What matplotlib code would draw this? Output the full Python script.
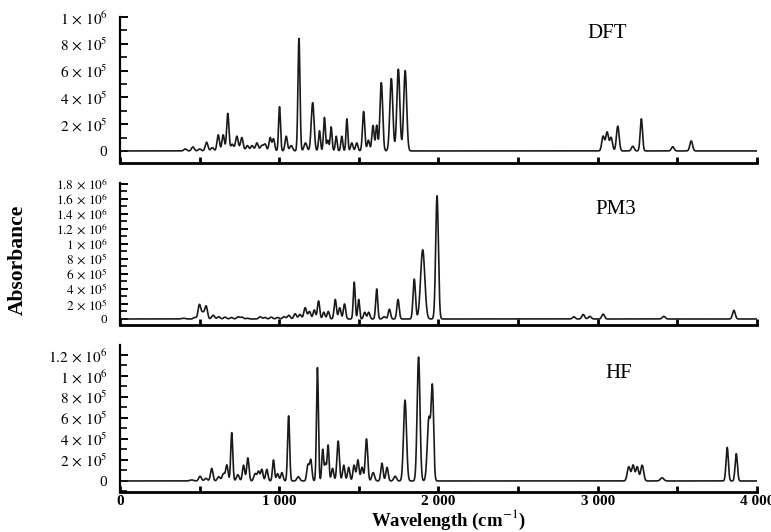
import numpy as np
import matplotlib.pyplot as plt
from matplotlib.ticker import MultipleLocator, FixedLocator

plt.rcParams['font.family'] = ['Liberation Serif', 'DejaVu Serif']
plt.rcParams['mathtext.fontset'] = 'stix'

# peak lists: position (cm-1), height, FWHM (cm-1)
dft_pos = [410, 458, 500, 544, 580, 617, 648, 677, 705, 734, 765, 800, 830, 860, 890,
           911, 943, 964, 1002, 1044, 1075, 1124, 1165, 1210, 1253, 1284, 1305, 1326,
           1358, 1393, 1425, 1456, 1487, 1530, 1560, 1589, 1612, 1641, 1704, 1748, 1791,
           3034, 3059, 3084, 3126, 3220, 3274, 3471, 3587]
dft_amp = [1.5e4, 3.0e4, 1.5e4, 6.5e4, 2.5e4, 1.2e5, 1.2e5, 2.8e5, 5e4, 1.1e5, 1.0e5, 4e4,
           4e4, 6e4, 4e4, 5e4, 1.0e5, 9e4, 3.3e5, 1.1e5, 4e4, 8.4e5, 6e4, 3.6e5, 1.5e5,
           2.5e5, 8e4, 1.8e5, 1.1e5, 1.1e5, 2.4e5, 6e4, 6e4, 2.95e5, 8e4, 1.9e5, 1.9e5,
           5.1e5, 5.4e5, 6.1e5, 6.0e5,
           1.1e5, 1.4e5, 1.0e5, 1.85e5, 3.5e4, 2.4e5, 3.2e4, 7.5e4]
dft_fwhm = [21, 20, 21, 20, 21, 18, 18, 17, 21, 20, 20, 21, 21, 20, 21, 20, 17, 17, 14, 17,
            21, 15, 21, 21, 14, 14, 14, 14, 14, 14, 13, 17, 17, 17, 17, 17, 14, 20, 22, 22,
            22, 20, 20, 20, 20, 20, 17, 20, 20]

pm3_pos = [400, 470, 499, 520, 541, 585, 620, 660, 700, 742, 766, 800, 880, 910, 950, 990,
           1030, 1060, 1100, 1130, 1163, 1190, 1220, 1247, 1280, 1308, 1352, 1380, 1410,
           1471, 1499, 1537, 1562, 1612, 1660, 1692, 1746, 1848, 1901, 1991,
           2850, 2909, 2950, 3034, 3415, 3855]
pm3_amp = [1e4, 2e4, 1.9e5, 8e4, 1.7e5, 5e4, 3e4, 2.5e4, 2e4, 3e4, 2.5e4, 1e4, 3e4, 2e4,
           2.5e4, 2e4, 3e4, 5e4, 7e4, 6e4, 1.5e5, 1.0e5, 1.2e5, 2.4e5, 9e4, 1.0e5, 2.6e5,
           1.5e5, 2.0e5, 4.9e5, 2.6e5, 9e4, 9e4, 4.0e5, 3e4, 1.3e5, 2.6e5, 5.3e5, 9.2e5,
           1.64e6, 3e4, 6e4, 3.5e4, 6.5e4, 3.5e4, 1.15e5]
pm3_fwhm = [28, 21, 20, 21, 20, 21, 21, 21, 21, 21, 21, 21, 21, 21, 21, 21, 21, 21, 20, 20,
            20, 20, 17, 17, 17, 17, 17, 17, 17, 14, 14, 17, 17, 15, 21, 17, 17, 18, 31, 20,
            20, 20, 22, 20, 22, 20]

hf_pos = [450, 503, 540, 576, 620, 650, 671, 702, 740, 776, 803, 849, 870, 891, 922, 964,
          990, 1017, 1059, 1120, 1180, 1198, 1240, 1273, 1290, 1307, 1335, 1370, 1405,
          1436, 1470, 1494, 1520, 1548, 1590, 1645, 1677, 1728, 1790, 1875, 1940, 1962,
          3195, 3222, 3248, 3279, 3404, 3813, 3870]
hf_amp = [1e4, 4.5e4, 2.5e4, 1.2e5, 4e4, 7e4, 1.5e5, 4.6e5, 6e4, 1.5e5, 2.2e5, 7e4, 9e4,
          1.1e5, 1.1e5, 2.0e5, 7e4, 8e4, 6.2e5, 4e4, 1.5e5, 2.0e5, 1.08e6, 3.0e5, 1.6e5,
          3.4e5, 1.2e5, 3.8e5, 1.5e5, 1.3e5, 1.5e5, 2.0e5, 1.3e5, 4.0e5, 8e4, 1.7e5,
          1.3e5, 4.5e4, 7.7e5, 1.18e6, 6.0e5, 8.6e5,
          1.35e5, 1.5e5, 1.35e5, 1.5e5, 3e4, 3.2e5, 2.6e5]
hf_fwhm = [28, 20, 21, 18, 21, 20, 17, 15, 20, 17, 17, 20, 17, 17, 17, 15, 17, 17, 15, 21,
           17, 17, 14, 14, 14, 14, 17, 18, 17, 17, 17, 17, 17, 18, 20, 17, 17, 20, 22, 21,
           24, 18, 22, 20, 20, 22, 25, 17, 17]

labels = ['DFT', 'PM3', 'HF']
ylims = [(-0.9e5, 1.0e6), (-0.8e5, 1.81e6), (-1.05e5, 1.295e6)]
ytick_vals = [[0, 2e5, 4e5, 6e5, 8e5, 1e6],
              [0, 2e5, 4e5, 6e5, 8e5, 1e6, 1.2e6, 1.4e6, 1.6e6, 1.8e6],
              [0, 2e5, 4e5, 6e5, 8e5, 1e6, 1.2e6]]
ytick_text = [['0', r'$2\,\times\,10^{5}$', r'$4\,\times\,10^{5}$', r'$6\,\times\,10^{5}$',
               r'$8\,\times\,10^{5}$', r'$1\,\times\,10^{6}$'],
              ['0', r'$2\,\times\,10^{5}$', r'$4\,\times\,10^{5}$', r'$6\,\times\,10^{5}$',
               r'$8\,\times\,10^{5}$', r'$1\,\times\,10^{6}$', r'$1.2\,\times\,10^{6}$',
               r'$1.4\,\times\,10^{6}$', r'$1.6\,\times\,10^{6}$', r'$1.8\,\times\,10^{6}$'],
              ['0', r'$2\,\times\,10^{5}$', r'$4\,\times\,10^{5}$', r'$6\,\times\,10^{5}$',
               r'$8\,\times\,10^{5}$', r'$1\,\times\,10^{6}$', r'$1.2\,\times\,10^{6}$']]
xtick_vals = [0, 1000, 2000, 3000, 4000]
xtick_text = ['0', '1 000', '2 000', '3 000', '4 000']

peaks = [(dft_pos, dft_amp, dft_fwhm), (pm3_pos, pm3_amp, pm3_fwhm), (hf_pos, hf_amp, hf_fwhm)]
label_xy = [(607, 34), (616, 210), (619, 374)]


def spectrum(x, pos, amp, fwhm):
    y = np.zeros_like(x)
    for p, a, w in zip(pos, amp, fwhm):
        y += a * np.exp(-4 * np.log(2) * (x - p) ** 2 / w ** 2)
    return y


W, H = 771, 532
fig = plt.figure(figsize=(W / 100, H / 100), dpi=100)
boxes = [[0.1556, 0.6936, 0.8262, 0.2744],
         [0.1556, 0.3891, 0.8262, 0.2669],
         [0.1556, 0.0752, 0.8262, 0.2763]]

x = np.arange(0, 4000.5, 0.5)
for i in range(3):
    ax = fig.add_axes(boxes[i])
    pos, amp, fwhm = peaks[i]
    ax.plot(x, spectrum(x, pos, amp, fwhm), color='#1a1a1a', lw=1.2)
    ax.set_xlim(0, 4000)
    ax.set_ylim(*ylims[i])
    ax.spines['top'].set_visible(False)
    ax.spines['right'].set_visible(False)
    ax.spines['left'].set_linewidth(1.6)
    ax.spines['bottom'].set_linewidth(2.0)
    ax.yaxis.set_major_locator(FixedLocator(ytick_vals[i]))
    ax.set_yticklabels(ytick_text[i])
    ax.yaxis.set_minor_locator(MultipleLocator(1e5))
    ax.tick_params(axis='y', which='major', direction='in', length=6, width=1.4,
                   labelsize=11 if i != 1 else 9.5, pad=9)
    ax.tick_params(axis='y', which='minor', direction='in', length=5, width=1.2)
    ax.xaxis.set_major_locator(FixedLocator(xtick_vals))
    ax.xaxis.set_minor_locator(MultipleLocator(500))
    ax.tick_params(axis='x', which='both', direction='in', length=4, width=2)
    if i == 2:
        ax.set_xticklabels(xtick_text, fontweight='bold', fontsize=11)
        ax.tick_params(axis='x', pad=2.5)
    else:
        ax.set_xticklabels([])
    lx, ly = label_xy[i]
    fig.text(lx / W, 1 - ly / H, labels[i], ha='center', va='center', fontsize=15)

fig.text(448 / W, 1 - 519.5 / H, 'Wavelength (cm$^{-1}$)', ha='center', va='center',
         fontsize=13.5, fontweight='bold')
fig.text(18 / W, 1 - 260 / H, 'Absorbance', rotation=90, ha='center', va='center',
         fontsize=15.5, fontweight='bold')

fig.savefig('out.png', dpi=100)
